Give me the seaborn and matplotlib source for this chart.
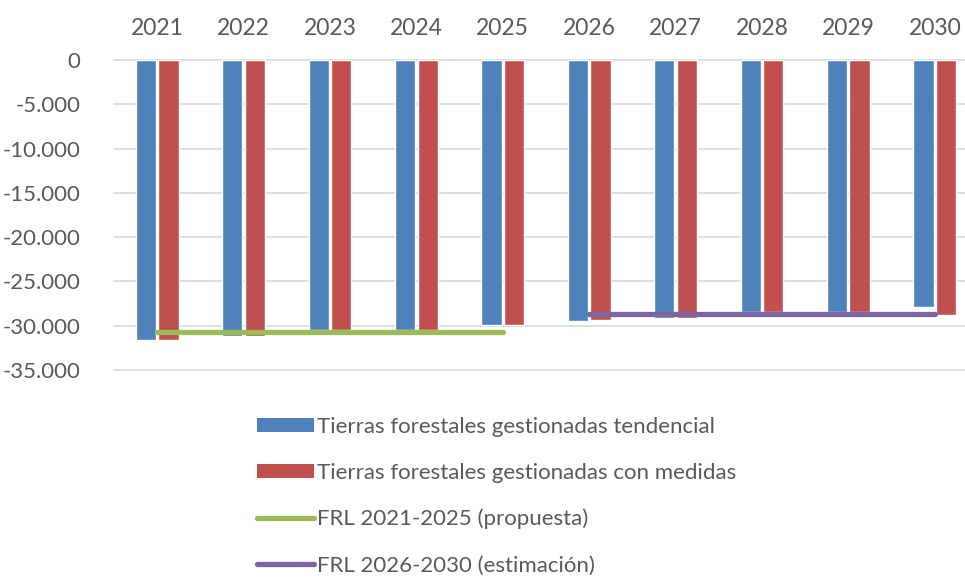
import matplotlib
matplotlib.use("Agg")
import matplotlib.pyplot as plt
import seaborn as sns
import pandas as pd
from matplotlib.patches import Patch
from matplotlib.lines import Line2D
from matplotlib.ticker import FuncFormatter

years = ["2021", "2022", "2023", "2024", "2025", "2026", "2027", "2028", "2029", "2030"]
tendencial = [-31600, -31200, -30500, -30500, -29900, -29500, -29150, -28500, -28500, -27900]
con_medidas = [-31600, -31200, -30500, -30500, -29900, -29350, -29150, -28500, -28500, -28800]
frl1_years = ["2021", "2022", "2023", "2024", "2025"]
frl1_values = [-30700, -30700, -30700, -30700, -30700]
frl2_years = ["2026", "2027", "2028", "2029", "2030"]
frl2_values = [-28700, -28700, -28700, -28700, -28700]

lab_t = "Tierras forestales gestionadas tendencial"
lab_m = "Tierras forestales gestionadas con medidas"
lab_f1 = "FRL 2021-2025 (propuesta)"
lab_f2 = "FRL 2026-2030 (estimación)"

c_blue, c_red, c_green, c_purple = "#4F81BD", "#C0504D", "#9BBB59", "#8064A2"
txt = "#595959"

sns.set_style("white")
plt.rcParams["font.family"] = ["Lato", "DejaVu Sans"]

df = pd.DataFrame({
    "year": years * 2,
    "value": tendencial + con_medidas,
    "serie": [lab_t] * len(years) + [lab_m] * len(years),
})

fig = plt.figure(figsize=(9.65, 5.79), dpi=100)
ax = fig.add_axes([114 / 965, 1 - 370 / 579, (965 - 114) / 965, 310 / 579])

sns.barplot(data=df, x="year", y="value", hue="serie", order=years,
            palette=[c_blue, c_red], width=0.52, gap=0.1, ax=ax,
            legend=False, zorder=2, saturation=1)

idx = {y: i for i, y in enumerate(years)}
ax.plot([idx[y] for y in frl1_years], frl1_values, color=c_green, lw=3.8,
        solid_capstyle="round", zorder=3)
ax.plot([idx[y] for y in frl2_years], frl2_values, color=c_purple, lw=3.8,
        solid_capstyle="round", zorder=3)

ax.set_ylim(-35000, 0)
ax.set_xlim(-0.5, 9.35)
ax.set_yticks(range(-35000, 1, 5000))
ax.yaxis.set_major_formatter(FuncFormatter(lambda v, p: f"{int(v):,}".replace(",", ".")))
ax.grid(axis="y", color="#d9d9d9", lw=1.2, zorder=0)
for gl in ax.get_ygridlines():
    gl.set_clip_on(False)
ax.set_axisbelow(True)
ax.xaxis.tick_top()
ax.tick_params(axis="x", length=0, pad=15, labelsize=16.5, labelcolor=txt)
ax.tick_params(axis="y", length=0, pad=24, labelsize=16, labelcolor=txt)
ax.set_xlabel("")
ax.set_ylabel("")
for s in ax.spines.values():
    s.set_visible(False)

handles = [
    Patch(facecolor=c_blue, edgecolor="none"),
    Patch(facecolor=c_red, edgecolor="none"),
    Line2D([], [], color=c_green, lw=3.8, solid_capstyle="round"),
    Line2D([], [], color=c_purple, lw=3.8, solid_capstyle="round"),
]
leg = fig.legend(handles, [lab_t, lab_m, lab_f1, lab_f2], loc="upper left",
                 bbox_to_anchor=(248 / 965, 1 - 408 / 579), frameon=False,
                 fontsize=16, labelcolor=txt, handlelength=2.55, handleheight=0.55,
                 handletextpad=0.17, labelspacing=1.17, borderaxespad=0)

fig.savefig("out.png", dpi=100)
